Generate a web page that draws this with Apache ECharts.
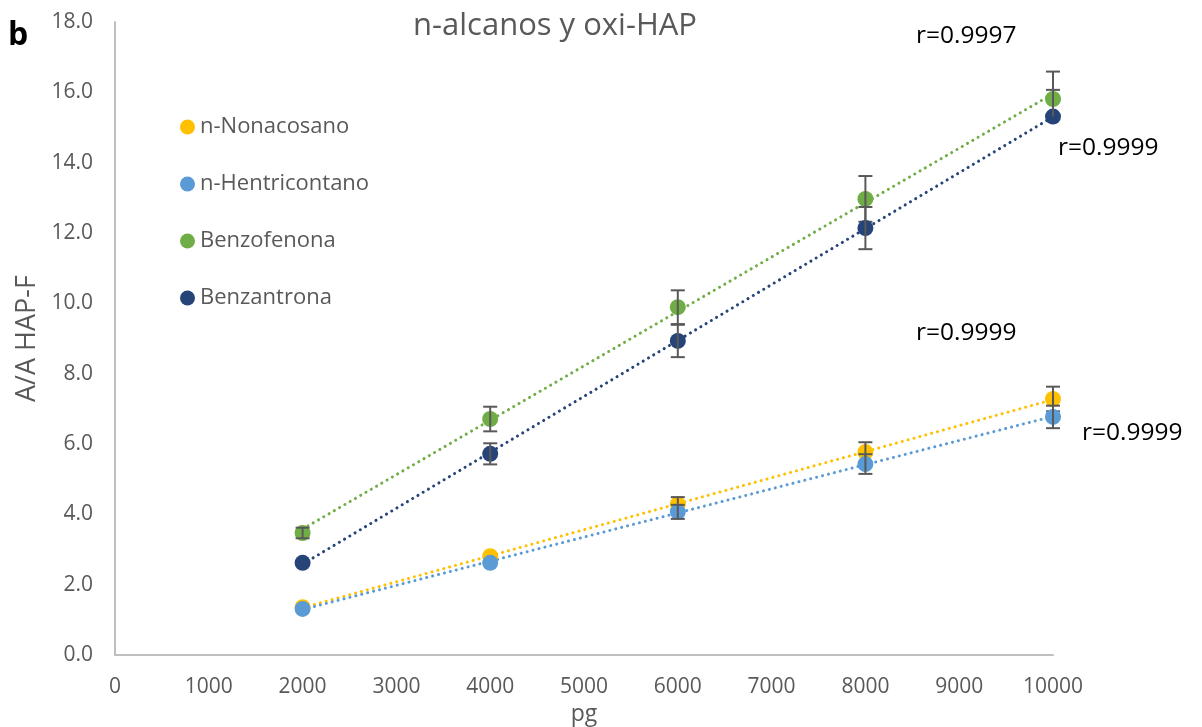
<!DOCTYPE html>
<html>
<head>
<meta charset="utf-8">
<script src="https://cdn.jsdelivr.net/npm/echarts@6/dist/echarts.min.js"></script>
<style>
  html, body { margin: 0; padding: 0; background: #fff; }
  #chart { width: 1202px; height: 727px; }
</style>
</head>
<body>
<div id="chart"></div>
<script>
// datos
var xValues = [2000, 4000, 6000, 8000, 10000];
var seriesNames = ['n-Nonacosano', 'n-Hentricontano', 'Benzofenona', 'Benzantrona'];
var colors = ['#ffc000', '#5b9bd5', '#70ad47', '#264478'];
var nonacosano = [1.36, 2.81, 4.29, 5.77, 7.28];
var hentricontano = [1.31, 2.62, 4.07, 5.43, 6.77];
var benzofenona = [3.47, 6.71, 9.89, 12.97, 15.81];
var benzantrona = [2.62, 5.72, 8.93, 12.14, 15.31];
// barras de error (+ / -)
var errPlusNonacosano = [0, 0, 0.2, 0.28, 0.35];
var errMinusNonacosano = [0, 0, 0.2, 0.28, 0.35];
var errPlusHentricontano = [0, 0, 0.2, 0.28, 0.32];
var errMinusHentricontano = [0, 0, 0.2, 0.28, 0.32];
var errPlusBenzofenona = [0.15, 0.35, 0.48, 0.65, 0.78];
var errMinusBenzofenona = [0.15, 0.35, 0.48, 0.65, 0.5];
var errPlusBenzantrona = [0, 0.3, 0.46, 0.6, 0.76];
var errMinusBenzantrona = [0, 0.3, 0.46, 0.6, 0];
var rLabels = ['r=0.9997', 'r=0.9999', 'r=0.9999', 'r=0.9999'];

var allValues = [nonacosano, hentricontano, benzofenona, benzantrona];
var allPlus = [errPlusNonacosano, errPlusHentricontano, errPlusBenzofenona, errPlusBenzantrona];
var allMinus = [errMinusNonacosano, errMinusHentricontano, errMinusBenzofenona, errMinusBenzantrona];

var font = '"Open Sans", sans-serif';
var chart = echarts.init(document.getElementById('chart'));

// linea de tendencia lineal (minimos cuadrados)
function trend(ys) {
    var n = xValues.length, sx = 0, sy = 0, sxx = 0, sxy = 0;
    for (var i = 0; i < n; i++) {
        sx += xValues[i]; sy += ys[i];
        sxx += xValues[i] * xValues[i]; sxy += xValues[i] * ys[i];
    }
    var b = (n * sxy - sx * sy) / (n * sxx - sx * sx);
    var a = (sy - b * sx) / n;
    var x0 = xValues[0], x1 = xValues[n - 1];
    return [[x0, a + b * x0], [x1, a + b * x1]];
}

var series = [];
for (var k = 0; k < seriesNames.length; k++) {
    var pts = [], errs = [];
    for (var i = 0; i < xValues.length; i++) {
        pts.push([xValues[i], allValues[k][i]]);
        if (allPlus[k][i] > 0 || allMinus[k][i] > 0) {
            errs.push([xValues[i], allValues[k][i] - allMinus[k][i], allValues[k][i] + allPlus[k][i], allValues[k][i]]);
        }
    }
    series.push({
        name: seriesNames[k] + ' tendencia',
        type: 'line',
        data: trend(allValues[k]),
        symbol: 'none',
        silent: true,
        z: 1,
        lineStyle: { color: colors[k], width: 3, type: [0.1, 6], cap: 'round' }
    });
    // cada serie tapa a la anterior (como en Excel)
    series.push({
        name: seriesNames[k],
        type: 'scatter',
        data: pts,
        symbol: 'circle',
        symbolSize: 16,
        z: 3 + k * 2,
        itemStyle: { color: colors[k], opacity: 1 }
    });
    series.push({
        name: seriesNames[k] + ' error',
        type: 'custom',
        data: errs,
        z: 4 + k * 2,
        silent: true,
        renderItem: function (params, api) {
            var x = api.value(0);
            var lo = api.coord([x, api.value(1)]);
            var hi = api.coord([x, api.value(2)]);
            var mid = api.coord([x, api.value(3)]);
            var w = 7;
            var st = { stroke: '#595959', lineWidth: 2 };
            var kids = [{ type: 'line', shape: { x1: hi[0], y1: hi[1], x2: lo[0], y2: lo[1] }, style: st }];
            if (hi[1] < mid[1] - 1) kids.push({ type: 'line', shape: { x1: hi[0] - w, y1: hi[1], x2: hi[0] + w, y2: hi[1] }, style: st });
            if (lo[1] > mid[1] + 1) kids.push({ type: 'line', shape: { x1: lo[0] - w, y1: lo[1], x2: lo[0] + w, y2: lo[1] }, style: st });
            return { type: 'group', children: kids };
        }
    });
}

var option = {
    backgroundColor: '#fff',
    animation: false,
    title: {
        text: 'n-alcanos y oxi-HAP',
        left: 550,
        textAlign: 'center',
        top: 6,
        textStyle: { fontFamily: font, fontSize: 31, fontWeight: 'normal', color: '#595959' }
    },
    legend: {
        data: seriesNames,
        orient: 'vertical',
        left: 175,
        top: 111,
        itemGap: 35,
        icon: 'circle',
        itemWidth: 15,
        itemHeight: 15,
        textStyle: { fontFamily: font, fontSize: 22, color: '#595959' }
    },
    grid: { left: 115, right: 149, top: 22, bottom: 72, outerBoundsMode: 'none' },
    xAxis: {
        type: 'value',
        min: 0, max: 10000, interval: 1000,
        name: 'pg',
        nameLocation: 'middle',
        nameGap: 47,
        nameTextStyle: { fontFamily: font, fontSize: 23, color: '#595959' },
        axisLine: { show: true, lineStyle: { color: '#bfbfbf', width: 2 } },
        axisTick: { show: false },
        splitLine: { show: false },
        axisLabel: {
            fontFamily: font, fontSize: 21, color: '#595959', margin: 22,
            formatter: function (v) { return String(v); }
        }
    },
    yAxis: {
        type: 'value',
        min: 0, max: 18, interval: 2,
        name: 'A/A HAP-F',
        nameLocation: 'middle',
        nameGap: 74,
        nameTextStyle: { fontFamily: font, fontSize: 27, color: '#595959' },
        axisLine: { show: true, lineStyle: { color: '#bfbfbf', width: 2 } },
        axisTick: { show: false },
        splitLine: { show: false },
        axisLabel: {
            fontFamily: font, fontSize: 21, color: '#595959', margin: 22,
            formatter: function (v) { return v.toFixed(1); }
        }
    },
    graphic: [
        { type: 'text', left: 8, top: 20, style: { text: 'b', fontFamily: font, fontSize: 32, fontWeight: 'bold', fill: '#000' } },
        { type: 'text', left: 916, top: 24, style: { text: rLabels[0], fontFamily: font, fontSize: 24.5, fill: '#000' } },
        { type: 'text', left: 1058, top: 136, style: { text: rLabels[1], fontFamily: font, fontSize: 24.5, fill: '#000' } },
        { type: 'text', left: 916, top: 321, style: { text: rLabels[2], fontFamily: font, fontSize: 24.5, fill: '#000' } },
        { type: 'text', left: 1082, top: 421, style: { text: rLabels[3], fontFamily: font, fontSize: 24.5, fill: '#000' } }
    ],
    series: series
};

chart.setOption(option);
</script>
</body>
</html>
